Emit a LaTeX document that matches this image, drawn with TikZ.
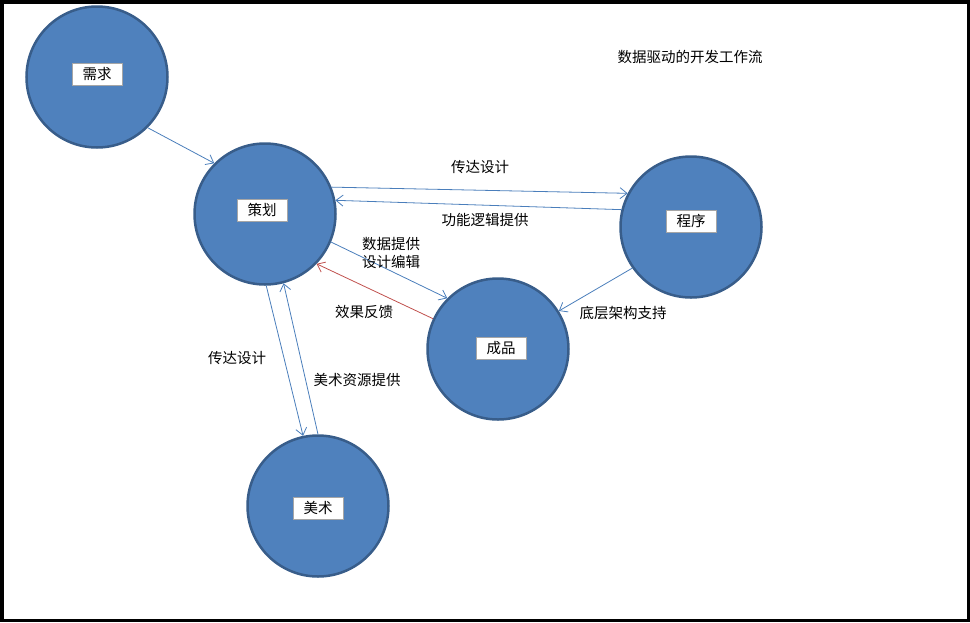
\documentclass[tikz,border=0pt]{standalone}
\usepackage{fontspec}
\setmainfont{Noto Sans CJK SC}
\usetikzlibrary{arrows.meta}
\definecolor{fillblue}{HTML}{4F81BD}
\definecolor{edgeblue}{HTML}{385D8A}
\definecolor{lineblue}{HTML}{4A7EBB}
\definecolor{linered}{HTML}{C0504D}
\definecolor{tagedge}{HTML}{A6A6A6}

\begin{document}
\begin{tikzpicture}[x=1pt,y=-1pt,
    every node/.style={font=\fontsize{14.5}{18}\selectfont},
    stage/.style={circle,fill=fillblue,draw=edgeblue,line width=2.5pt,minimum size=141pt,inner sep=0pt},
    tag/.style={fill=white,draw=tagedge,line width=0.8pt,minimum width=50pt,minimum height=22pt,inner sep=0pt},
    flow/.style={draw=lineblue,line width=0.8pt,-{Straight Barb[length=7pt,width=11pt]}},
    back/.style={flow,draw=linered}]
    \useasboundingbox (0,0) rectangle (970,622);
    \draw[line width=3.5pt] (1.75,1.75) rectangle (968.25,620.25);
    % stages
    \node[stage] (xq) at (97,77) {};
    \node[stage] (ch) at (265,214) {};
    \node[stage] (cx) at (691,227) {};
    \node[stage] (cp) at (498,349) {};
    \node[stage] (ms) at (318,506) {};
    \node[tag] (xqtag) at (97,74) {需求};
    \node[tag] (chtag) at (262,210) {策划};
    \node[tag] (cxtag) at (691,221) {程序};
    \node[tag] (cptag) at (501,348) {成品};
    \node[tag] (mstag) at (318,508) {美术};
    % flows
    \draw[flow] (xq.-45) -- (ch.135);
    \draw[flow] (ch.22) -- (cx.152);
    \draw[flow] (cx.166) -- (ch.11);
    \draw[flow] (ch.-23) -- (cp.135);
    \draw[back] (cp.155) -- (ch.-44);
    \draw[flow] (cx.215) -- (cp.32);
    \draw[flow] (ch.-89) -- (ms.102);
    \draw[flow] (ms.90) -- (ch.-75);
    % labels
    \node (title) at (690,57) {数据驱动的开发工作流};
    \node (chcx) at (480,167) {传达设计};
    \node (cxch) at (485,220) {功能逻辑提供};
    \node[align=center] (chcp) at (391,253) {数据提供\\设计编辑};
    \node (cpch) at (364,312) {效果反馈};
    \node (cxcp) at (623,313) {底层架构支持};
    \node (chms) at (237,358) {传达设计};
    \node (msch) at (357,380) {美术资源提供};
\end{tikzpicture}
\end{document}
